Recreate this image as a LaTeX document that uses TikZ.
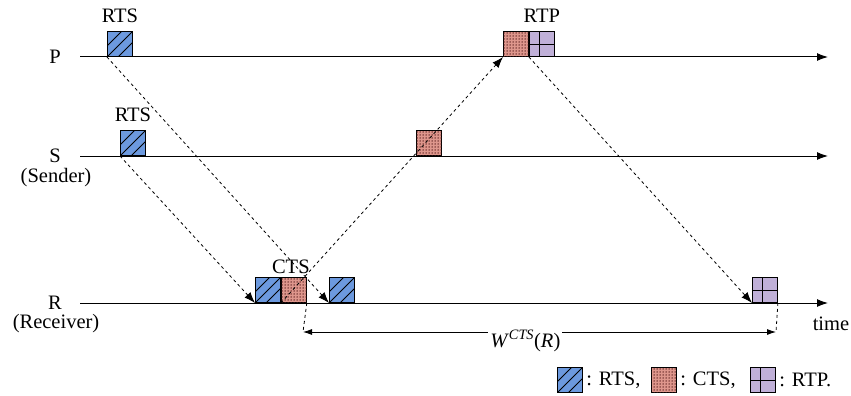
\documentclass[tikz,border=0pt]{standalone}
\usepackage{fontspec}
\setmainfont{Liberation Serif}
\usepackage{tikz}
\usetikzlibrary{arrows.meta,positioning,patterns.meta}
\definecolor{rtsblue}{RGB}{108,153,222}
\definecolor{ctsred}{RGB}{222,150,140}
\definecolor{ctsdot}{RGB}{90,30,30}
\definecolor{rtpviolet}{RGB}{192,176,216}

\begin{document}
\begin{tikzpicture}[x=1pt,y=-1pt,font=\fontsize{20.5}{24}\selectfont,
  pkt/.style={draw,line width=0.9pt,minimum size=25pt,inner sep=0pt,anchor=south west},
  rts/.style={pkt,fill=rtsblue,path picture={
      \foreach \o in {-11,0,11}
        \draw[line width=0.8pt] ([xshift=\o pt]path picture bounding box.south west) -- ++(27pt,27pt);}},
  cts/.style={pkt,fill=ctsred,postaction={pattern={Dots[distance=3pt,radius=0.75pt]},pattern color=ctsdot}},
  rtp/.style={pkt,fill=rtpviolet,path picture={
      \draw[line width=1.2pt] ([xshift=10pt]path picture bounding box.south west) -- ++(0pt,27pt);
      \draw[line width=1.2pt] ([yshift=12pt]path picture bounding box.south west) -- ++(27pt,0pt);}},
  axis/.style={line width=1pt,-{Latex[length=11pt,width=8pt]}},
  msg/.style={dashed,line width=0.8pt,-{Latex[length=11pt,width=8pt]}}]
  \useasboundingbox (0,0) rectangle (851,396);

  \node (lP) at (55,57) {P};
  \node (lS) at (55,156) {S};
  \node (lSend) at (56,178) {(Sender)};
  \node (lR) at (55,303) {R};
  \node (lRecv) at (56,324) {(Receiver)};

  \coordinate (p0) at (80,57);  \coordinate (p1) at (828,57);
  \coordinate (s0) at (80,156); \coordinate (s1) at (828,156);
  \coordinate (r0) at (80,303); \coordinate (r1) at (828,303);
  \draw[axis] (p0) -- (p1);
  \draw[axis] (s0) -- (s1);
  \draw[axis] (r0) -- (r1);
  \node (time) at (831,324) {time};

  \node[rts,label={[label distance=5pt]above:RTS}] (rtsP) at (107,57) {};
  \node[rts,label={[label distance=5pt]above:RTS}] (rtsS) at (120,156) {};
  \node[rts] (rtsR1) at (255,303) {};
  \node[cts,right=0pt of rtsR1,label={[label distance=0pt,xshift=-3pt]above:CTS}] (ctsR) {};
  \node[rts] (rtsR2) at (329,303) {};
  \node[cts] (ctsS) at (416,156) {};
  \node[cts] (ctsP) at (503,57) {};
  \node[rtp,right=0pt of ctsP,label={[label distance=5pt]above:RTP}] (rtpP) {};
  \node[rtp] (rtpR) at (752,303) {};

  \draw[msg] (rtsP.south west) -- (rtsR2.south west);
  \draw[msg] (rtsS.south west) -- (rtsR1.south west);
  \draw[msg] (ctsR.south west) -- (ctsP.south west);
  \draw[msg] (rtpP.south west) -- (rtpR.south west);

  \coordinate (wL) at (303,332);
  \coordinate (wR) at (776,332);
  \draw[dashed,line width=0.8pt] (ctsR.south east) -- (wL);
  \draw[dashed,line width=0.8pt] (rtpR.south east) -- (wR);
  \draw[line width=0.8pt,{Latex[length=9pt,width=6pt]}-{Latex[length=9pt,width=6pt]}] (wL) -- node[pos=0.47,fill=white,inner sep=2pt,yshift=-9pt] (wlab) {\textit{W}\textsuperscript{\textit{CTS}}(\textit{R})} (wR);

  \node[rts] (kRTS) at (557,393) {};
  \node[right=0pt of kRTS] (tRTS) {: RTS,};
  \node[cts] (kCTS) at (651,393) {};
  \node[right=0pt of kCTS] (tCTS) {: CTS,};
  \node[rtp] (kRTP) at (750,393) {};
  \node[right=0pt of kRTP] (tRTP) {: RTP.};
\end{tikzpicture}
\end{document}
